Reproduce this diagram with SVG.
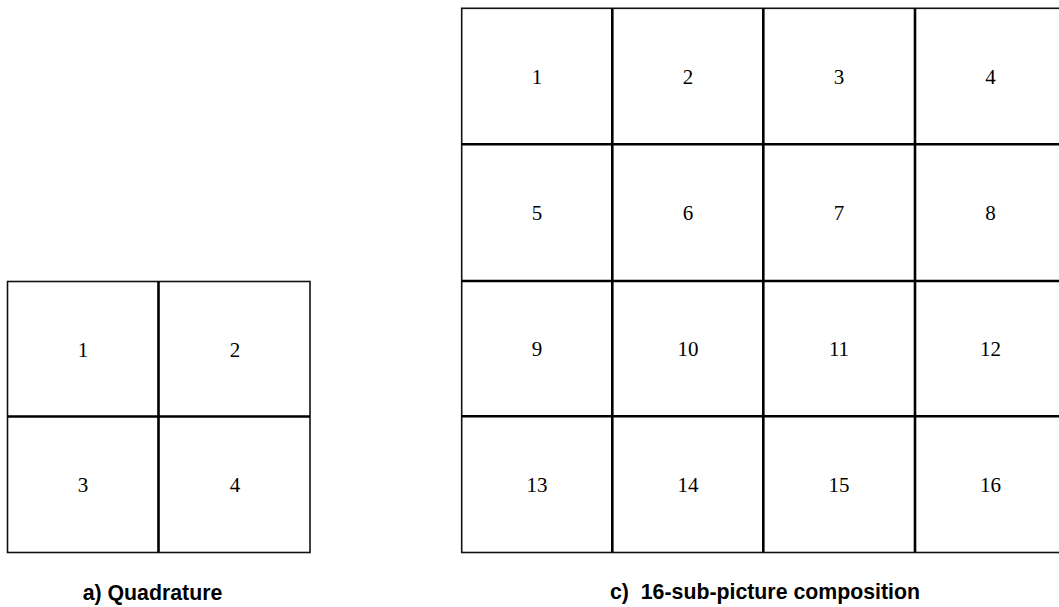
<svg xmlns="http://www.w3.org/2000/svg" width="1059" height="607" viewBox="0 0 1059 607">
<style>
.cell{fill:#fff;stroke:none}
.num{font-family:"Liberation Serif","Times New Roman",serif;font-size:21px;fill:#000;text-anchor:middle}
.outer{fill:none;stroke:#111;stroke-width:1.6}
.inner{stroke:#000;stroke-width:2.6;fill:none}
.cap{font-family:"Liberation Sans",Arial,sans-serif;font-size:21.3px;font-weight:bold;fill:#000;text-anchor:middle}
</style>
<rect width="1059" height="607" fill="#fff"/>
<g id="quadrature">
<g id="q1"><rect class="cell" x="7.5" y="281.5" width="151" height="135"/><text class="num" x="83" y="357">1</text></g>
<g id="q2"><rect class="cell" x="158.5" y="281.5" width="151.5" height="135"/><text class="num" x="235" y="357">2</text></g>
<g id="q3"><rect class="cell" x="7.5" y="416.5" width="151" height="136"/><text class="num" x="83" y="491.5">3</text></g>
<g id="q4"><rect class="cell" x="158.5" y="416.5" width="151.5" height="136"/><text class="num" x="235" y="491.5">4</text></g>
<rect class="outer" x="7.5" y="281.5" width="302.5" height="271"/>
<path class="inner" d="M158.5 281.5V552.5M7.5 416.5H310"/>
</g>
<g id="composition">
<g id="c1"><text class="num" x="537" y="84">1</text></g>
<g id="c2"><text class="num" x="688" y="84">2</text></g>
<g id="c3"><text class="num" x="839" y="84">3</text></g>
<g id="c4"><text class="num" x="990.5" y="84">4</text></g>
<g id="c5"><text class="num" x="537" y="220">5</text></g>
<g id="c6"><text class="num" x="688" y="220">6</text></g>
<g id="c7"><text class="num" x="839" y="220">7</text></g>
<g id="c8"><text class="num" x="990.5" y="220">8</text></g>
<g id="c9"><text class="num" x="537" y="356">9</text></g>
<g id="c10"><text class="num" x="688" y="356">10</text></g>
<g id="c11"><text class="num" x="839" y="356">11</text></g>
<g id="c12"><text class="num" x="990.5" y="356">12</text></g>
<g id="c13"><text class="num" x="537" y="491.5">13</text></g>
<g id="c14"><text class="num" x="688" y="491.5">14</text></g>
<g id="c15"><text class="num" x="839" y="491.5">15</text></g>
<g id="c16"><text class="num" x="990.5" y="491.5">16</text></g>
<rect class="outer" x="461.7" y="8.3" width="604" height="544.2"/>
<path class="inner" d="M612.3 8.3V552.5M763.3 8.3V552.5M915 8.3V552.5M461.7 144.3H1066M461.7 281H1066M461.7 416.3H1066"/>
</g>
<g id="connectors"/>
<text class="cap" x="152.5" y="600">a) Quadrature</text>
<text class="cap" x="765" y="599" xml:space="preserve">c)  16-sub-picture composition</text>
</svg>
